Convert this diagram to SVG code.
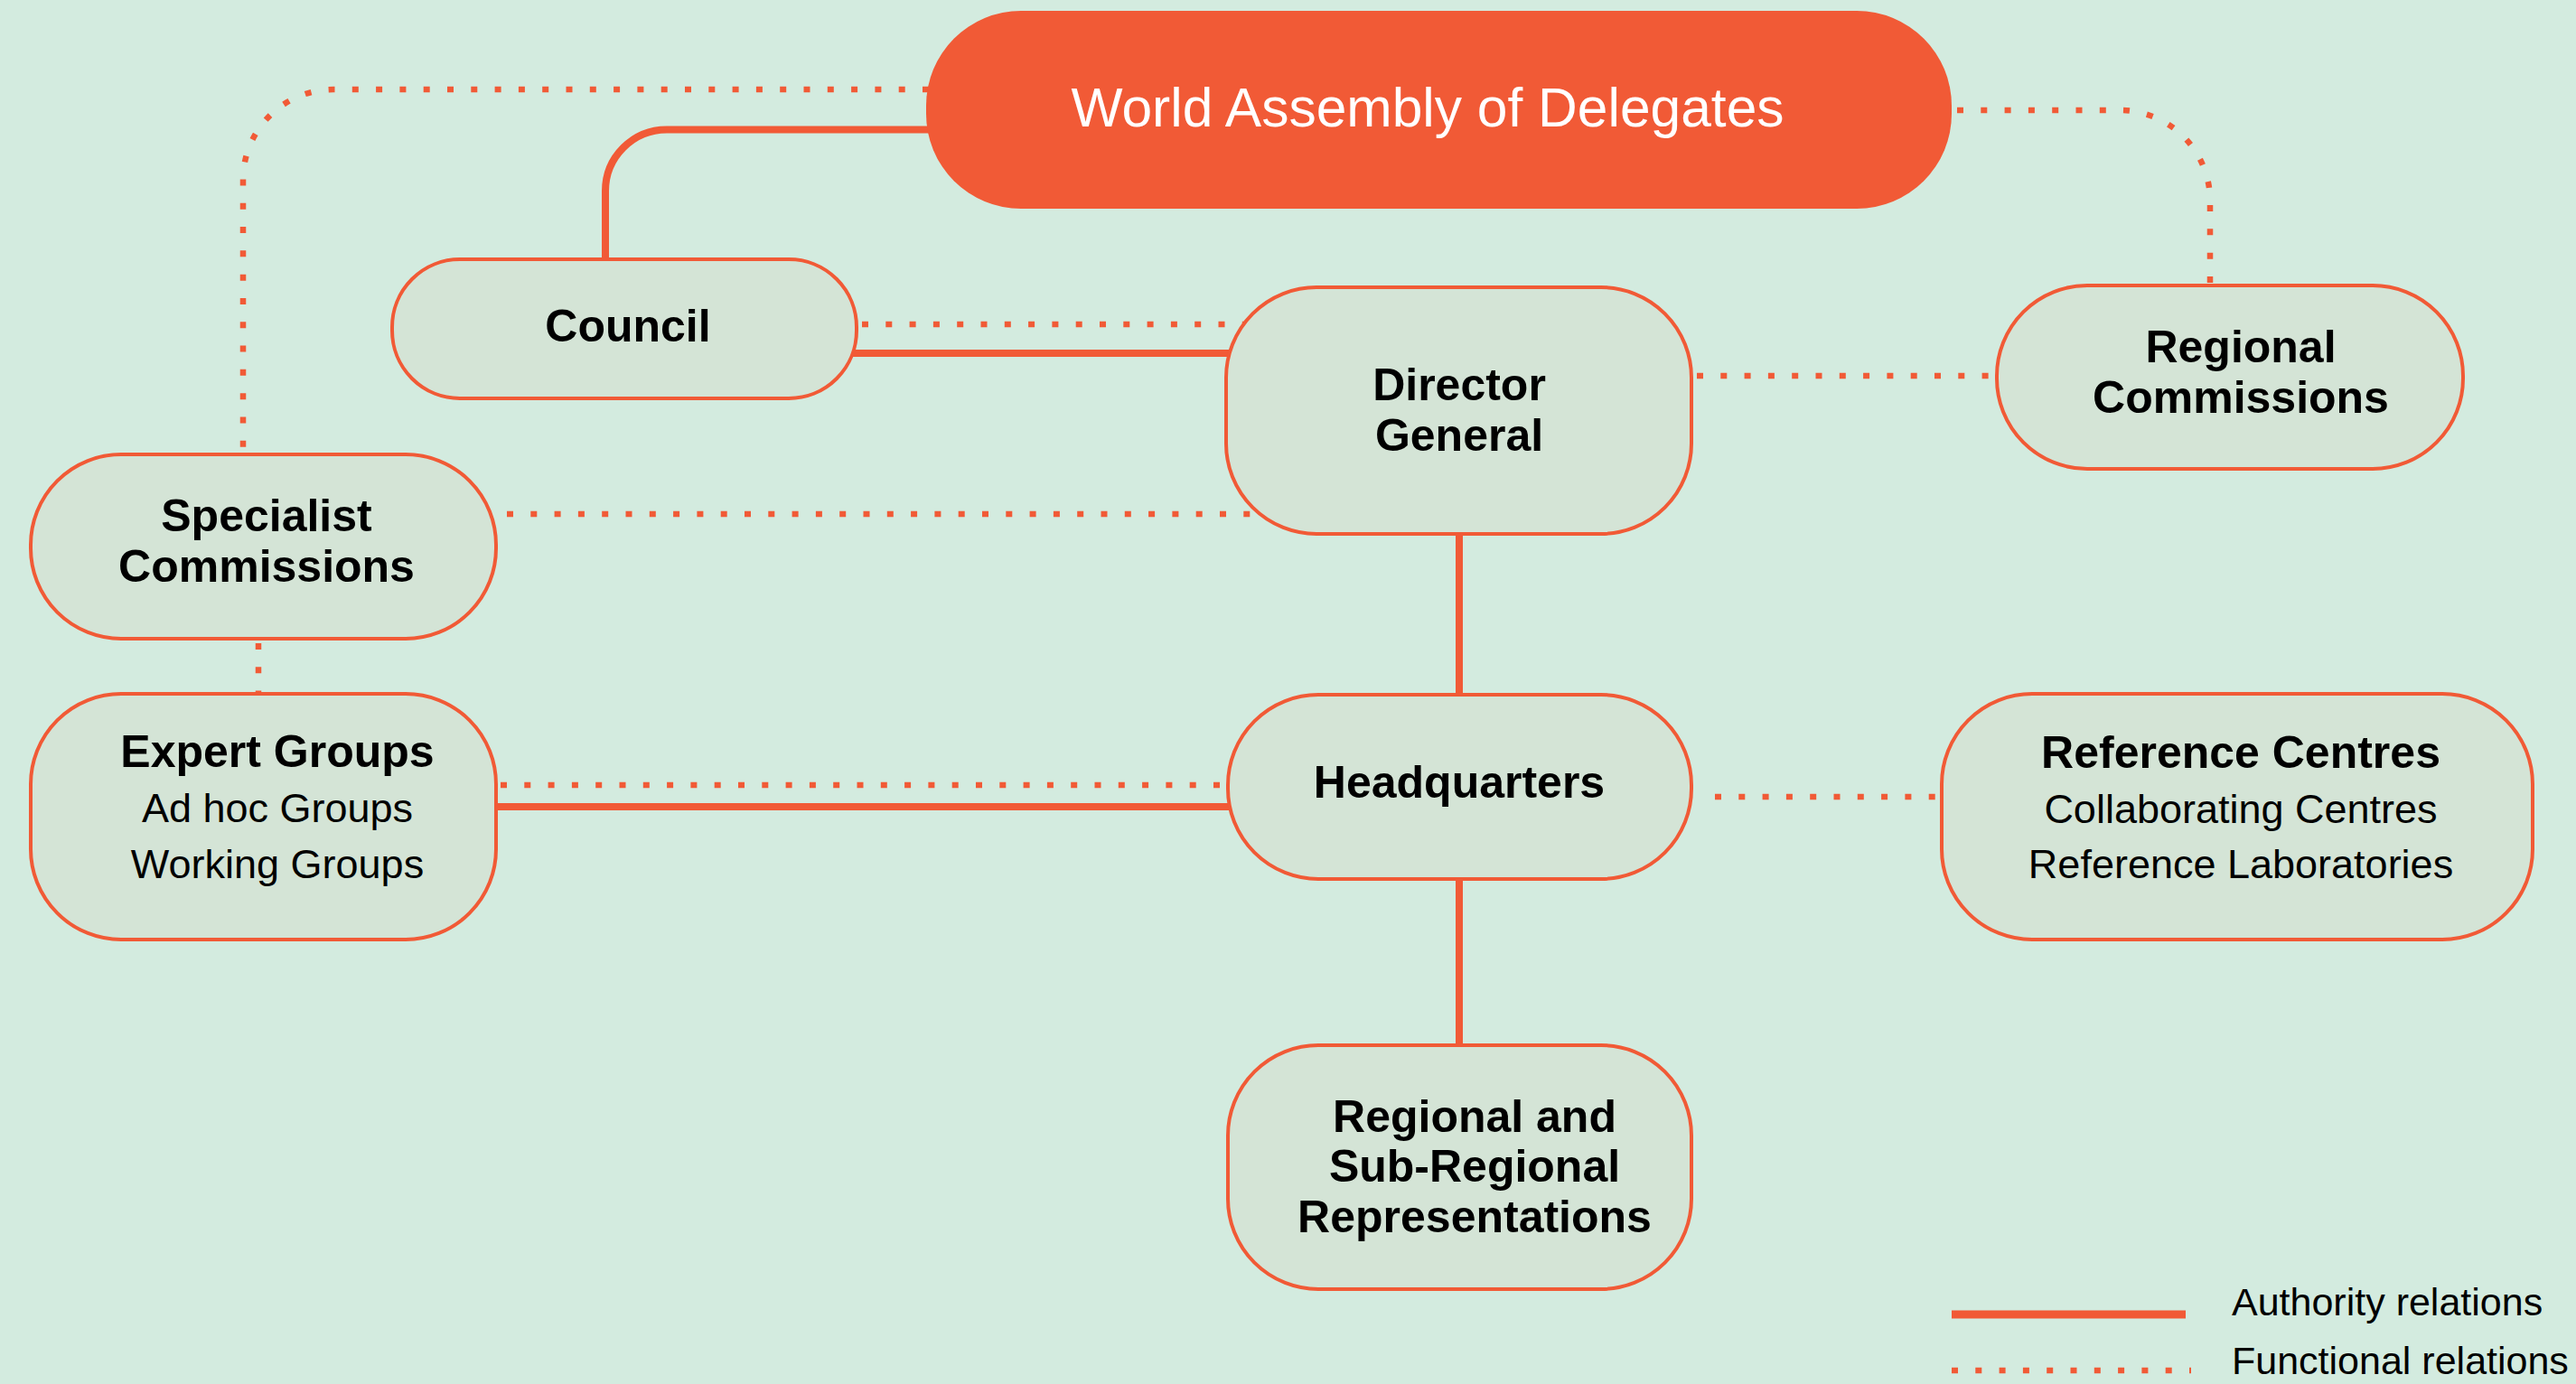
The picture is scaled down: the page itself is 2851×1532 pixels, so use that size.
<svg xmlns="http://www.w3.org/2000/svg" width="2851" height="1532" viewBox="0 0 2851 1532">
<style>
.bg{fill:#d3ebdf}
.node{fill:#d4e4d6;stroke:#f15a36;stroke-width:4}
.solid{fill:none;stroke:#f15a36;stroke-width:8}
.dot{fill:none;stroke:#f15a36;stroke-width:6.5;stroke-dasharray:7 19.3}
.b{font-family:"Liberation Sans",Arial,sans-serif;font-weight:bold;font-size:50px;fill:#000;text-anchor:middle}
.n{font-family:"Liberation Sans",Arial,sans-serif;font-size:45px;fill:#000;text-anchor:middle}
.lg{font-family:"Liberation Sans",Arial,sans-serif;font-size:43px;fill:#000}
</style>
<rect class="bg" x="0" y="0" width="2851" height="1532"/>
<g id="connectors">
<path class="dot" d="M1028 99 H369 A100 100 0 0 0 269 199 V503"/>
<path class="dot" d="M2166 122 H2346 A100 100 0 0 1 2446 222 V316"/>
<path class="solid" d="M1040 143.5 H738 A68 68 0 0 0 670 211.5 V289"/>
<path class="dot" d="M954 359 H1380"/>
<path class="solid" d="M930 391 H1370"/>
<path class="dot" d="M561 569 H1400"/>
<path class="dot" d="M1878 416 H2215"/>
<path class="solid" d="M1615 585 V775"/>
<path class="dot" d="M286 712 V768"/>
<path class="dot" d="M554 869 H1370"/>
<path class="solid" d="M530 893 H1370"/>
<path class="dot" d="M1898 882 H2152"/>
<path class="solid" d="M1615 968 V1160"/>
</g>
<g id="wad">
<rect x="1025" y="12" width="1135" height="219" rx="105" ry="105" fill="#f15a36"/>
<text x="1580" y="140" font-family="'Liberation Sans',Arial,sans-serif" font-size="60.5" fill="#ffffff" text-anchor="middle">World Assembly of Delegates</text>
</g>
<g id="council">
<rect class="node" x="434" y="287" width="514" height="154" rx="75" ry="75"/>
<text class="b" x="695" y="378">Council</text>
</g>
<g id="director-general">
<rect class="node" x="1357" y="318" width="515" height="273" rx="100" ry="100"/>
<text class="b" x="1615" y="443">Director</text>
<text class="b" x="1615" y="499">General</text>
</g>
<g id="regional-commissions">
<rect class="node" x="2210" y="316" width="516" height="203" rx="100" ry="100"/>
<text class="b" x="2480" y="401">Regional</text>
<text class="b" x="2480" y="457">Commissions</text>
</g>
<g id="specialist-commissions">
<rect class="node" x="34" y="503" width="515" height="204" rx="100" ry="100"/>
<text class="b" x="295" y="588">Specialist</text>
<text class="b" x="295" y="644">Commissions</text>
</g>
<g id="expert-groups">
<rect class="node" x="34" y="768" width="515" height="272" rx="100" ry="100"/>
<text class="b" x="307" y="849">Expert Groups</text>
<text class="n" x="307" y="910">Ad hoc Groups</text>
<text class="n" x="307" y="972">Working Groups</text>
</g>
<g id="headquarters">
<rect class="node" x="1359" y="769" width="513" height="204" rx="100" ry="100"/>
<text class="b" x="1615" y="883">Headquarters</text>
</g>
<g id="reference-centres">
<rect class="node" x="2149" y="768" width="654" height="272" rx="100" ry="100"/>
<text class="b" x="2480" y="850">Reference Centres</text>
<text class="n" x="2480" y="911">Collaborating Centres</text>
<text class="n" x="2480" y="972">Reference Laboratories</text>
</g>
<g id="regional-representations">
<rect class="node" x="1359" y="1157" width="513" height="270" rx="100" ry="100"/>
<text class="b" x="1632" y="1253">Regional and</text>
<text class="b" x="1632" y="1308">Sub-Regional</text>
<text class="b" x="1632" y="1364">Representations</text>
</g>
<g id="legend">
<line x1="2160" y1="1455" x2="2419" y2="1455" stroke="#f15a36" stroke-width="9"/>
<line class="dot" x1="2160" y1="1517" x2="2425" y2="1517"/>
<text class="lg" x="2470" y="1456">Authority relations</text>
<text class="lg" x="2470" y="1521">Functional relations</text>
</g>
</svg>
